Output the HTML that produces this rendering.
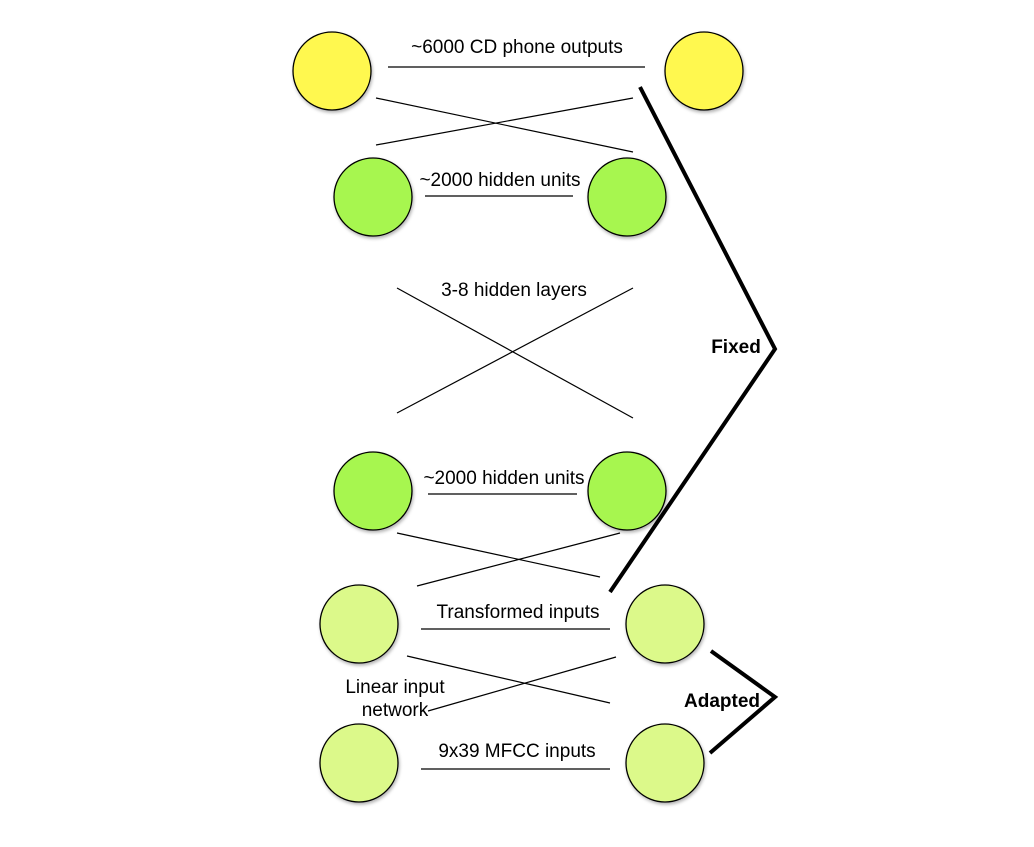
<!DOCTYPE html>
<html><head><style>body{margin:0;background:#fff}</style></head><body>
<svg width="1034" height="842" xmlns="http://www.w3.org/2000/svg" font-family="Liberation Sans, sans-serif" font-size="19">
<defs><filter id="s" x="-20%" y="-20%" width="150%" height="150%"><feDropShadow dx="1" dy="2" stdDeviation="1.5" flood-opacity="0.3"/></filter></defs>
<g stroke="#000" stroke-width="1.3">
<circle cx="332" cy="71" r="39" fill="#fff84f" filter="url(#s)"/>
<circle cx="704" cy="71" r="39" fill="#fff84f" filter="url(#s)"/>
<circle cx="373" cy="197" r="39" fill="#a7f64f" filter="url(#s)"/>
<circle cx="627" cy="197" r="39" fill="#a7f64f" filter="url(#s)"/>
<circle cx="373" cy="491" r="39" fill="#a7f64f" filter="url(#s)"/>
<circle cx="627" cy="491" r="39" fill="#a7f64f" filter="url(#s)"/>
<circle cx="359" cy="624" r="39" fill="#dcf98a" filter="url(#s)"/>
<circle cx="665" cy="624" r="39" fill="#dcf98a" filter="url(#s)"/>
<circle cx="359" cy="763" r="39" fill="#dcf98a" filter="url(#s)"/>
<circle cx="665" cy="763" r="39" fill="#dcf98a" filter="url(#s)"/>
</g>
<g stroke="#000" stroke-width="1.2">
<line x1="388" y1="67" x2="645" y2="67"/>
<line x1="376" y1="98" x2="633" y2="152"/>
<line x1="376" y1="145" x2="633" y2="98"/>
<line x1="425" y1="196" x2="573" y2="196"/>
<line x1="397" y1="288" x2="633" y2="418"/>
<line x1="397" y1="413" x2="633" y2="288"/>
<line x1="428" y1="494" x2="577" y2="494"/>
<line x1="397" y1="533" x2="600" y2="577"/>
<line x1="417" y1="586" x2="620" y2="533"/>
<line x1="421" y1="629" x2="610" y2="629"/>
<line x1="407" y1="656" x2="610" y2="703"/>
<line x1="428" y1="711" x2="616" y2="657"/>
<line x1="421" y1="769" x2="610" y2="769"/>
</g>
<g stroke="#000" stroke-width="4" fill="none">
<polyline points="640,87 775,349 610,592"/>
<polyline points="711,651 775,697 710,753"/>
</g>
<g fill="#000">
<text x="517" y="53" text-anchor="middle">~6000 CD phone outputs</text>
<text x="500" y="186" text-anchor="middle">~2000 hidden units</text>
<text x="514" y="296" text-anchor="middle">3-8 hidden layers</text>
<text x="504" y="484" text-anchor="middle">~2000 hidden units</text>
<text x="518" y="618" text-anchor="middle">Transformed inputs</text>
<text x="395" y="693" text-anchor="middle">Linear input</text>
<text x="395" y="716" text-anchor="middle">network</text>
<text x="517" y="757" text-anchor="middle">9x39 MFCC inputs</text>
<text x="736" y="353" text-anchor="middle" font-weight="bold">Fixed</text>
<text x="722" y="707" text-anchor="middle" font-weight="bold">Adapted</text>
</g>
</svg>
</body></html>
